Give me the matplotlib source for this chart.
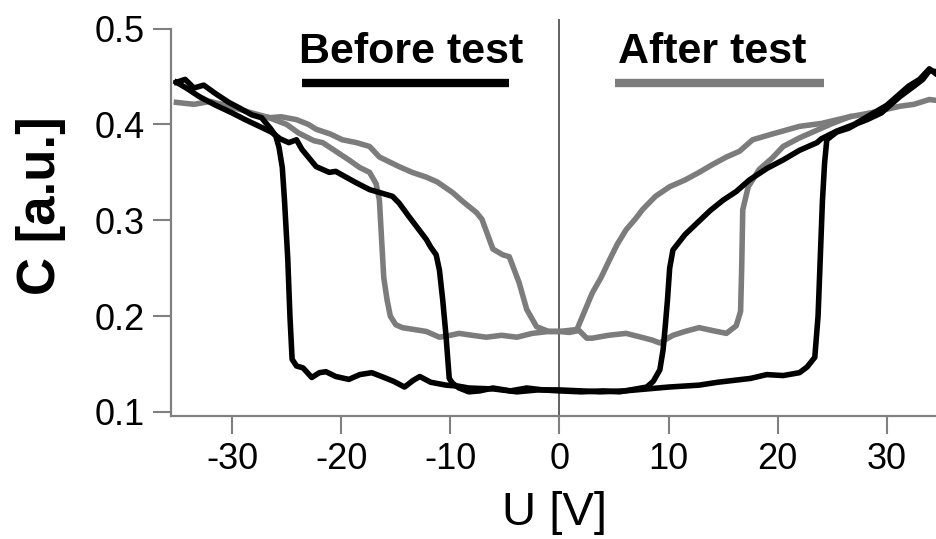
import matplotlib
matplotlib.use('Agg')
import matplotlib.pyplot as plt

plt.rcParams['font.family'] = ['Liberation Sans', 'DejaVu Sans']
plt.rcParams['axes.unicode_minus'] = False

# before test, wide loop (switching near -25 V / +24 V)
black_wide_u = [-35.1, -34.3, -33.5, -32.6, -31.5, -30.3, -29.3, -28.2, -27.3, -26.5, -26.0,
                -25.7, -25.4, -25.2, -24.9, -24.7, -24.5, -24.1, -23.5, -22.7, -22.0, -21.4,
                -20.5, -19.3, -18.3, -17.2, -16.3, -15.2, -14.2, -13.4, -12.8, -11.8, -10.4,
                -9.3, -8.3, -6.0, -3.9, -2.0, 0.0, 2.0, 3.7, 6.0, 8.0, 10.0, 12.8, 14.5, 16.0,
                17.5, 19.0, 20.5, 22.0, 22.7, 23.4, 23.7, 23.9, 24.1, 24.3, 24.5, 25.4, 26.5,
                27.3, 28.2, 29.5, 30.5, 31.2, 32.5, 33.3, 33.9, 34.6]
black_wide_c = [0.444, 0.447, 0.438, 0.441, 0.432, 0.423, 0.417, 0.410, 0.407, 0.396, 0.388,
                0.376, 0.355, 0.321, 0.260, 0.200, 0.155, 0.148, 0.146, 0.136, 0.141, 0.142,
                0.137, 0.134, 0.139, 0.141, 0.137, 0.132, 0.126, 0.133, 0.137, 0.131, 0.128,
                0.127, 0.125, 0.124, 0.121, 0.123, 0.123, 0.122, 0.121, 0.122, 0.124, 0.126,
                0.128, 0.131, 0.133, 0.135, 0.139, 0.138, 0.141, 0.147, 0.157, 0.200, 0.260,
                0.320, 0.360, 0.384, 0.392, 0.396, 0.401, 0.405, 0.412, 0.422, 0.429, 0.440,
                0.447, 0.456, 0.455]

# before test, narrow loop (switching near +9.5 V / -10.5 V)
black_narrow_u = [34.6, 33.9, 33.0, 32.0, 31.2, 30.0, 28.2, 27.0, 25.4, 24.0, 23.6, 22.0,
                  20.5, 19.0, 17.4, 16.2, 15.0, 13.8, 12.6, 11.5, 10.4, 10.1, 9.9, 9.7, 9.5,
                  9.2, 8.6, 8.0, 7.0, 5.5, 4.0, 2.0, 0.0, -1.5, -3.0, -4.5, -6.1, -7.3, -8.3,
                  -9.2, -9.8, -10.1, -10.4, -10.7, -11.0, -11.3, -11.8, -12.2, -13.0, -13.8,
                  -14.7, -15.3, -16.5, -17.4, -18.6, -19.4, -20.5, -21.1, -22.3, -23.6, -24.1,
                  -24.8, -25.6, -26.4, -27.5, -28.8, -30.0, -31.5, -33.0, -34.2, -35.1]
black_narrow_c = [0.452, 0.458, 0.447, 0.440, 0.432, 0.420, 0.408, 0.400, 0.393, 0.385, 0.381,
                  0.373, 0.363, 0.354, 0.342, 0.330, 0.321, 0.310, 0.297, 0.285, 0.269, 0.250,
                  0.217, 0.190, 0.165, 0.144, 0.132, 0.126, 0.124, 0.121, 0.122, 0.121, 0.122,
                  0.123, 0.125, 0.122, 0.125, 0.122, 0.121, 0.125, 0.130, 0.135, 0.180, 0.217,
                  0.248, 0.264, 0.272, 0.280, 0.292, 0.304, 0.318, 0.325, 0.329, 0.332, 0.339,
                  0.344, 0.351, 0.350, 0.356, 0.374, 0.384, 0.381, 0.385, 0.392, 0.398, 0.405,
                  0.412, 0.420, 0.429, 0.438, 0.444]

# after test, gradual branch
gray_soft_u = [-35.1, -33.5, -32.0, -30.3, -28.5, -26.6, -25.5, -24.1, -23.0, -22.3, -21.0,
               -19.9, -18.6, -17.4, -16.5, -15.6, -14.7, -13.5, -12.2, -11.2, -9.8, -8.9,
               -7.6, -7.1, -6.1, -5.2, -4.6, -3.7, -3.0, -2.1, -1.0, 0.0, 0.8, 1.6, 2.3, 3.0,
               3.8, 4.6, 5.3, 6.1, 7.0, 7.6, 8.8, 10.1, 11.5, 12.8, 14.0, 15.3, 16.5, 17.7,
               19.5, 22.0, 24.0, 26.6, 28.5, 31.2, 32.5, 33.9, 34.6]
gray_soft_c = [0.423, 0.421, 0.424, 0.419, 0.413, 0.407, 0.408, 0.405, 0.400, 0.395, 0.390,
               0.384, 0.381, 0.377, 0.366, 0.361, 0.356, 0.350, 0.345, 0.340, 0.329, 0.320,
               0.308, 0.301, 0.270, 0.264, 0.262, 0.235, 0.207, 0.189, 0.184, 0.184, 0.185,
               0.186, 0.205, 0.224, 0.240, 0.259, 0.275, 0.290, 0.302, 0.311, 0.325, 0.335,
               0.342, 0.350, 0.358, 0.366, 0.372, 0.384, 0.390, 0.398, 0.401, 0.408, 0.412,
               0.419, 0.421, 0.426, 0.425]

# after test, sharp branch (switching near -16 V / +17 V)
gray_sharp_u = [-26.6, -25.0, -23.9, -22.5, -21.7, -20.5, -19.3, -18.3, -17.4, -16.8, -16.5,
                -16.3, -16.1, -15.8, -15.5, -15.0, -14.4, -13.3, -12.2, -11.0, -10.0, -9.2,
                -8.0, -6.7, -5.3, -3.9, -2.5, -1.0, 0.0, 0.9, 1.8, 2.5, 3.0, 4.5, 6.1, 7.5,
                8.5, 9.2, 10.4, 11.5, 12.8, 14.0, 15.3, 16.2, 16.6, 16.7, 16.8, 17.3, 18.3,
                19.5, 20.5, 22.0, 23.6, 25.0, 26.6]
gray_sharp_c = [0.407, 0.400, 0.391, 0.383, 0.381, 0.372, 0.363, 0.355, 0.350, 0.338, 0.321,
                0.280, 0.240, 0.217, 0.200, 0.191, 0.188, 0.186, 0.184, 0.178, 0.180, 0.182,
                0.180, 0.178, 0.180, 0.178, 0.182, 0.184, 0.184, 0.183, 0.185, 0.177, 0.177,
                0.180, 0.182, 0.178, 0.175, 0.172, 0.180, 0.184, 0.188, 0.185, 0.182, 0.190,
                0.205, 0.250, 0.311, 0.335, 0.353, 0.365, 0.377, 0.386, 0.394, 0.401, 0.408]

labels = ['Before test', 'After test']
label_u = [-13.6, 14.0]
bar_u = [(-23.6, -4.6), (5.1, 24.2)]

BLACK = '#000000'
GRAY = '#7c7c7c'
AXIS = '#808080'

fig = plt.figure(figsize=(9.37, 5.39), dpi=100)
ax = fig.add_axes([171 / 937, 1 - 416 / 539, 1 - 171 / 937, (416 - 19) / 539])

ax.axvline(0, color='#555555', lw=1.3, zorder=1)

lw = 4.0
ax.plot(gray_soft_u, gray_soft_c, color=GRAY, lw=lw, solid_joinstyle='round')
ax.plot(gray_sharp_u, gray_sharp_c, color=GRAY, lw=lw, solid_joinstyle='round')
ax.plot(black_wide_u, black_wide_c, color=BLACK, lw=lw, solid_joinstyle='round')
ax.plot(black_narrow_u, black_narrow_c, color=BLACK, lw=lw, solid_joinstyle='round')

for lab, x, (b0, b1), col in zip(labels, label_u, bar_u, [BLACK, GRAY]):
    ax.text(x, 0.476, lab, ha='center', va='center', fontsize=31, fontweight='bold')
    ax.plot([b0, b1], [0.4436, 0.4436], color=col, lw=6, solid_capstyle='butt')

ax.set_xlim(-35.6, 34.6)
ax.set_ylim(0.0958, 0.51)
ax.set_xticks([-30, -20, -10, 0, 10, 20, 30])
ax.set_yticks([0.1, 0.2, 0.3, 0.4, 0.5])
ax.set_yticklabels(['0.1', '0.2', '0.3', '0.4', '0.5'])

for s in ['top', 'right']:
    ax.spines[s].set_visible(False)
for s in ['left', 'bottom']:
    ax.spines[s].set_color(AXIS)
    ax.spines[s].set_linewidth(1.6)
ax.spines['left'].set_bounds(0.0958, 0.5)

ax.tick_params(direction='out', length=13, width=1.5, color=AXIS, labelsize=26, pad=6)

ax.set_xlabel('U [V]', fontsize=34, labelpad=10)
ax.set_ylabel('C [a.u.]', fontsize=38, fontweight='bold')
ax.yaxis.set_label_coords(-0.137, 0.53)

fig.savefig('out.png', dpi=100)
